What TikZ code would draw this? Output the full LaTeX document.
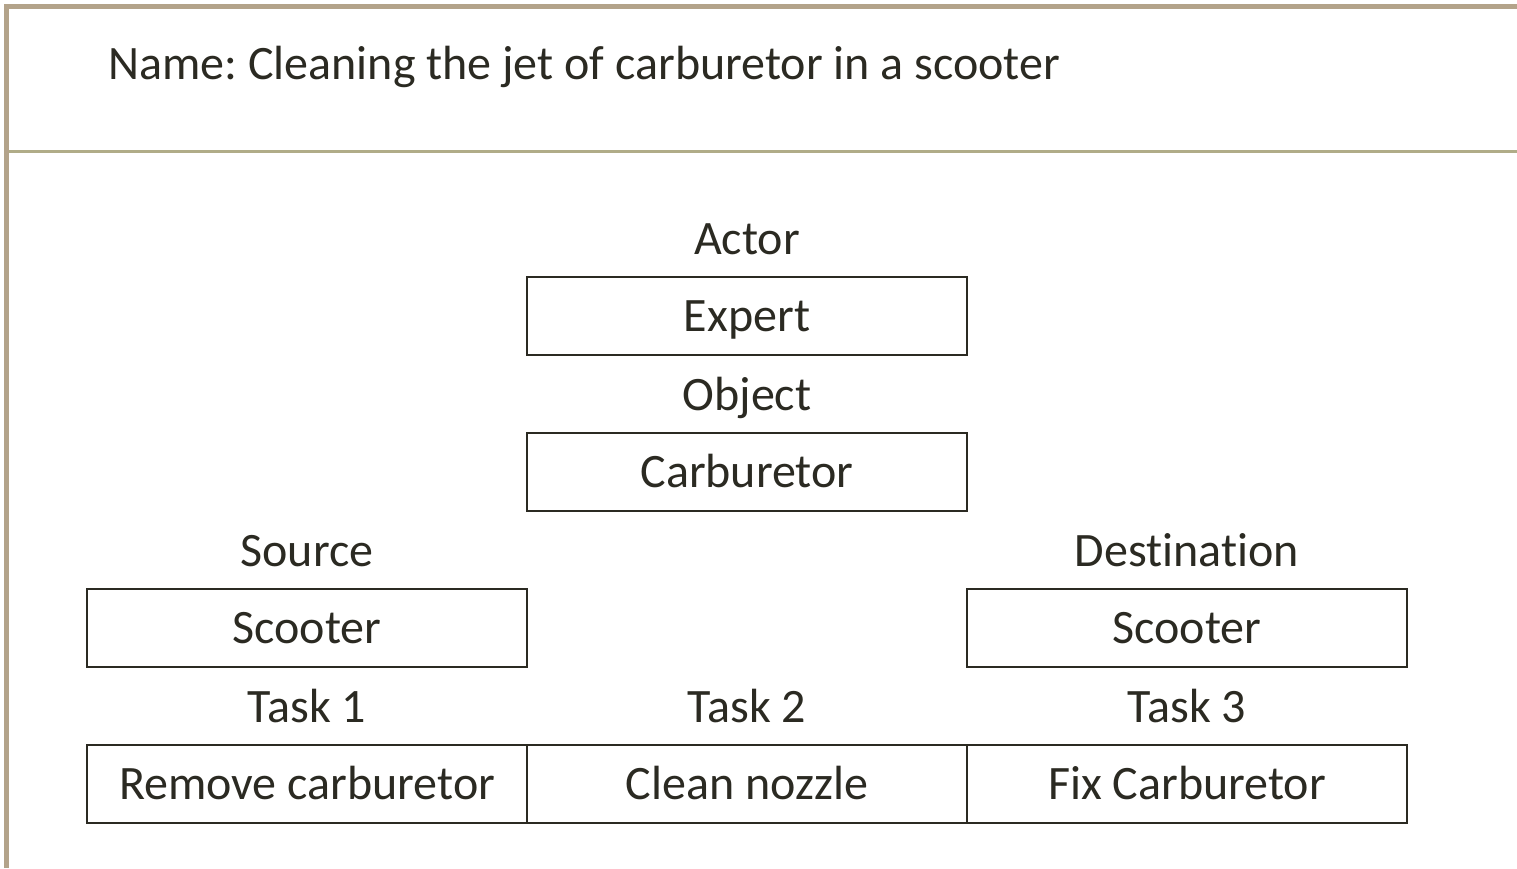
\documentclass[tikz,border=0pt]{standalone}
\usepackage{fontspec}
\setmainfont{Carlito}[Ligatures={NoCommon}]
\frenchspacing
\begin{document}
\begin{tikzpicture}[x=1pt,y=-1pt,
  txt/.style={text=inkc,font=\fontsize{48}{56}\selectfont,inner sep=0pt,text height=31pt,text depth=0pt,anchor=center},
  cell/.style={draw=inkc,line width=2.6pt,minimum width=440pt,minimum height=78pt,inner sep=0pt,text height=31pt,text depth=0pt,text=inkc,font=\fontsize{48}{56}\selectfont,anchor=center}]
\definecolor{inkc}{HTML}{2B2A22}
\definecolor{framec}{HTML}{B3A38A}
\definecolor{divc}{HTML}{B0AC88}
\useasboundingbox (0,0) rectangle (1517,868);
\fill[white] (0,0) rectangle (1517,868);
\draw[framec,line width=5pt] (6.5,868) -- (6.5,6.5) -- (1517,6.5);
\draw[divc,line width=3pt] (9,151) -- (1517,151);
\node[txt,anchor=base west,text height=,text depth=] (title) at (108,79) {Name: Cleaning the jet of carburetor in a scooter};
\node[txt] (actor) at (747,238.5) {Actor};
\node[cell] (expert) at (747,316) {Expert};
\node[txt] (object) at (747,394.5) {Object};
\node[cell] (carb) at (747,472) {Carburetor};
\node[txt] (source) at (307,550.5) {Source};
\node[txt] (dest) at (1187,550.5) {Destination};
\node[cell] (scl) at (307,628) {Scooter};
\node[cell] (scr) at (1187,628) {Scooter};
\node[txt] (t1) at (307,706.5) {Task 1};
\node[txt] (t2) at (747,706.5) {Task 2};
\node[txt] (t3) at (1187,706.5) {Task 3};
\node[cell] (b1) at (307,784) {Remove carburetor};
\node[cell] (b2) at (747,784) {Clean nozzle};
\node[cell] (b3) at (1187,784) {Fix Carburetor};
\end{tikzpicture}
\end{document}
